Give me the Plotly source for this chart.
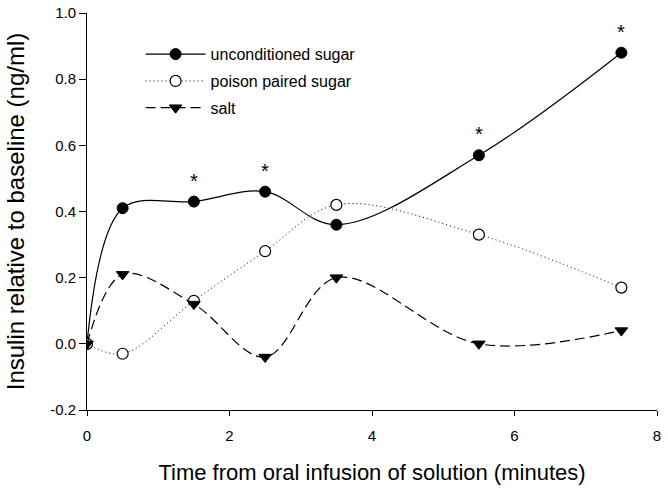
import plotly.graph_objects as go

time_min = [0, 0.5, 1.5, 2.5, 3.5, 5.5, 7.5]
unconditioned_sugar = [0.0, 0.41, 0.43, 0.46, 0.36, 0.57, 0.88]
poison_paired_sugar = [0.0, -0.03, 0.13, 0.28, 0.42, 0.33, 0.17]
salt = [0.0, 0.21, 0.12, -0.04, 0.20, 0.00, 0.04]
significant_times = [1.5, 2.5, 5.5, 7.5]

x_ticks = [0, 2, 4, 6, 8]
y_ticks = [-0.2, 0.0, 0.2, 0.4, 0.6, 0.8, 1.0]
y_tick_labels = ["-0.2", "0.0", "0.2", "0.4", "0.6", "0.8", "1.0"]

FONT = "Liberation Sans, Arial, sans-serif"

fig = go.Figure()
fig.add_trace(go.Scatter(
    x=time_min, y=unconditioned_sugar, name="unconditioned sugar",
    legendgroup="a", mode="lines+markers",
    line=dict(color="black", width=1.2, shape="spline", smoothing=1.0),
    marker=dict(symbol="circle", size=11, color="black", line=dict(color="black", width=1)),
))
fig.add_trace(go.Scatter(
    x=time_min, y=poison_paired_sugar, name="poison paired sugar",
    legendgroup="b", mode="lines+markers",
    line=dict(color="black", width=1, dash="1px,3px", shape="spline", smoothing=1.0),
    marker=dict(symbol="circle", size=11, color="white", line=dict(color="black", width=1.2)),
))
fig.add_trace(go.Scatter(
    x=time_min, y=salt, name="salt",
    legendgroup="c", mode="lines+markers",
    line=dict(color="black", width=1.2, dash="10px,5px", shape="spline", smoothing=1.0),
    marker=dict(symbol="triangle-down", size=11, color="black", line=dict(color="black", width=1)),
))

for t in significant_times:
    yv = unconditioned_sugar[time_min.index(t)]
    fig.add_annotation(x=t, y=yv, text="*", showarrow=False, yshift=21,
                       font=dict(family=FONT, size=20, color="black"))

fig.update_layout(
    width=668, height=489,
    margin=dict(l=87, r=11, t=13, b=79),
    paper_bgcolor="white", plot_bgcolor="white",
    font=dict(family=FONT, color="black"),
    showlegend=True,
    legend=dict(x=0.094, y=0.939, xanchor="left", yanchor="top",
                bgcolor="rgba(0,0,0,0)", font=dict(family=FONT, size=16),
                itemwidth=60, tracegroupgap=3),
    xaxis=dict(range=[0, 8], tickvals=x_ticks, showline=True, linecolor="black",
               linewidth=1, ticks="outside", ticklen=5, tickcolor="black",
               ticklabelstandoff=7,
               showgrid=False, zeroline=False, automargin=False,
               tickfont=dict(family=FONT, size=15),
               title=dict(text="Time from oral infusion of solution (minutes)",
                          font=dict(family=FONT, size=22), standoff=21)),
    yaxis=dict(range=[-0.2, 1.0], tickvals=y_ticks, ticktext=y_tick_labels,
               showline=True, linecolor="black", linewidth=1, ticks="outside",
               ticklen=7, tickcolor="black", showgrid=False, zeroline=False,
               automargin=False, ticklabeloverflow="allow",
               tickfont=dict(family=FONT, size=15),
               title=dict(text="Insulin relative to baseline (ng/ml)",
                          font=dict(family=FONT, size=24), standoff=18)),
)

# Remove the default 8px page margin so the figure fills the window exactly.
fig.write_html("out.html", config={"displayModeBar": False},
               post_script="document.body.style.margin='0';document.body.style.overflow='hidden';")
